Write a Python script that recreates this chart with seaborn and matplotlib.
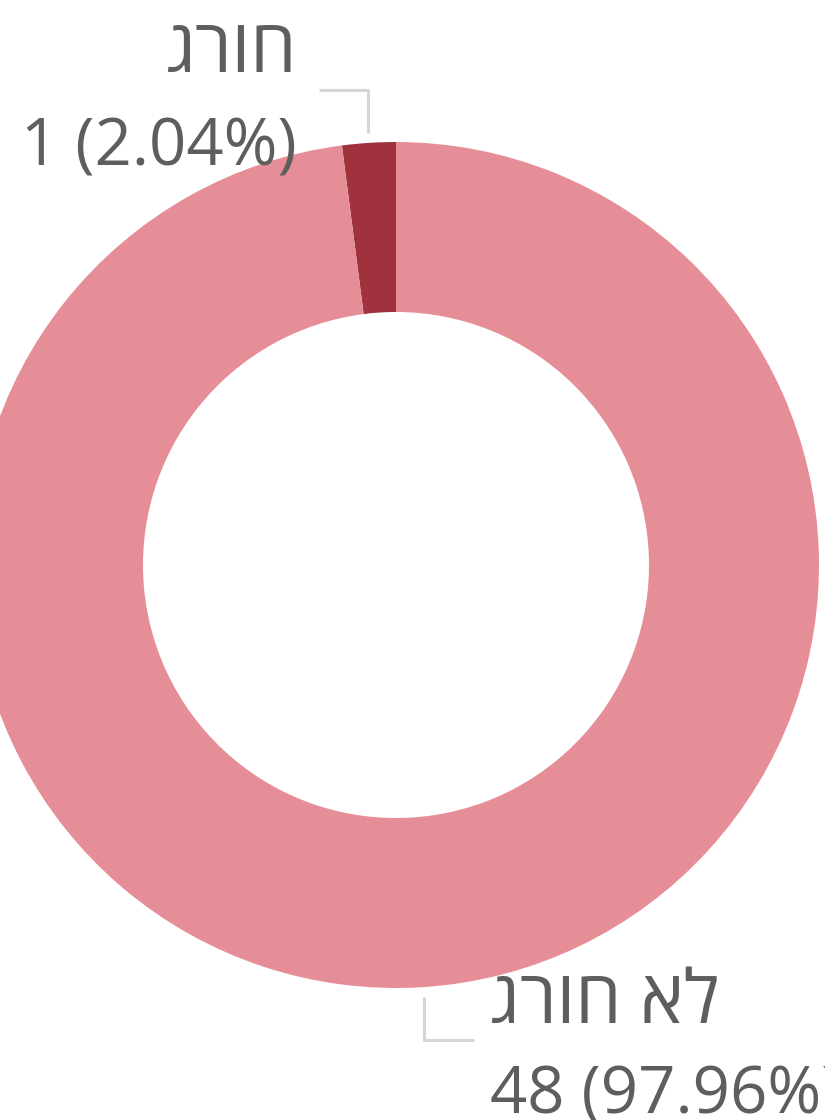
import numpy as np
import matplotlib
matplotlib.use('Agg')
import matplotlib.pyplot as plt
import seaborn as sns

# data
categories = ['חורג', 'לא חורג']
values = [1, 48]
colors = ['#A0323E', '#E68E97']

sns.set_theme(style='white')
plt.rcParams['font.family'] = ['Open Sans', 'DejaVu Sans']

W, H = 825, 1120
fig = plt.figure(figsize=(W / 100, H / 100), dpi=100)
ax = fig.add_axes([0, 0, 1, 1])

cx, cy = 396, H - 565
R = 423
ring = 170

wedges, _ = ax.pie(values, colors=colors, startangle=90, counterclock=True,
                   center=(cx, cy), radius=R,
                   wedgeprops=dict(width=ring, linewidth=0))
ax.set_xlim(0, W)
ax.set_ylim(0, H)
ax.set_aspect('equal')
ax.axis('off')

total = sum(values)
text_color = '#605E5C'
line_color = '#D6D6D6'

# label layout: (elbow y in px from top, horizontal direction, text x, name baseline, value baseline)
layout = [
    dict(elbow_y=90, dx=-49, tx=297, ha='right', name_y=72, val_y=165),
    dict(elbow_y=1040, dx=50, tx=490, ha='left', name_y=1023, val_y=1113),
]

for w, cat, v, lay in zip(wedges, categories, values, layout):
    mid = np.deg2rad((w.theta1 + w.theta2) / 2)
    x0 = cx + (R + 10) * np.cos(mid)
    y0 = cy + (R + 10) * np.sin(mid)
    ye = H - lay['elbow_y']
    ax.plot([x0, x0, x0 + lay['dx']], [y0, ye, ye], color=line_color, lw=2.2,
            solid_capstyle='butt', clip_on=False)
    # matplotlib has no bidi support, so Hebrew is passed in visual order
    ax.text(lay['tx'], H - lay['name_y'], cat[::-1], ha=lay['ha'], va='baseline',
            fontsize=53, color=text_color)
    ax.text(lay['tx'], H - lay['val_y'], f'{v} ({v / total * 100:.2f}%)',
            ha=lay['ha'], va='baseline', fontsize=47, color=text_color)

plt.savefig('out.png', dpi=100)
